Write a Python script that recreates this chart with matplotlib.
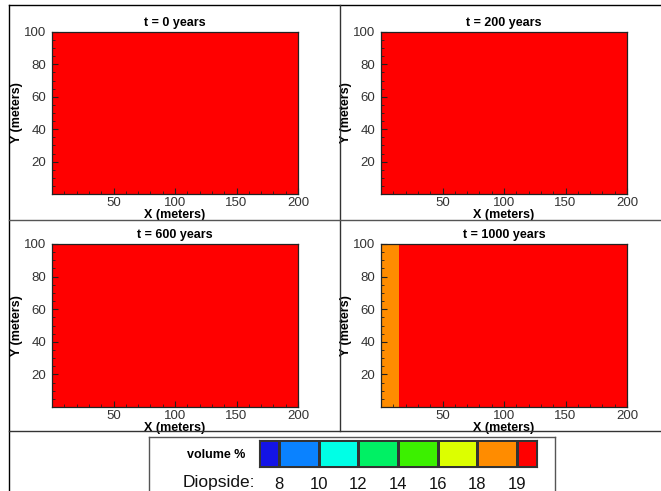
import matplotlib
matplotlib.use("Agg")
import matplotlib.pyplot as plt
import numpy as np
from matplotlib.colors import ListedColormap, BoundaryNorm
from matplotlib.lines import Line2D

plt.rcParams['font.family'] = ['Liberation Sans', 'DejaVu Sans']

# ---- data ----
titles = ["t = 0 years", "t = 200 years", "t = 600 years", "t = 1000 years"]
# column edges (m) and diopside volume % in each column, per time
x_edges = [[0, 200], [0, 200], [0, 200], [0, 15, 200]]
diopside = [[19.5], [19.5], [19.5], [18.5, 19.5]]
y_edges = [0, 100]
x_ticks = [50, 100, 150, 200]
y_ticks = [20, 40, 60, 80, 100]

level_bounds = [7, 8, 10, 12, 14, 16, 18, 19, 20]
level_labels = [8, 10, 12, 14, 16, 18, 19]
level_colors = ['#1414e6', '#0a82ff', '#00ffe6', '#00f064', '#3cf000',
                '#dcff00', '#ff8c00', '#ff0000']
legend_edges = [0, 1, 3, 5, 7, 9, 11, 13, 14]
legend_label_pos = [1, 3, 5, 7, 9, 11, 13]

cmap = ListedColormap(level_colors)
norm = BoundaryNorm(level_bounds, cmap.N)

W, H = 661, 491
fig = plt.figure(figsize=(W / 100, H / 100), dpi=100)
fig.patch.set_facecolor('white')

def fx(px):
    return px / W

def fy(py):
    return 1 - py / H

# panel rectangles in pixels: left, top, right, bottom
panels = [(52, 32, 298, 194), (381, 32, 627, 194),
          (52, 244, 298, 407), (381, 244, 627, 407)]

for i, (l, t, r, b) in enumerate(panels):
    ax = fig.add_axes([fx(l), fy(b), fx(r) - fx(l), fy(t) - fy(b)])
    vals = np.array([diopside[i]])
    ax.pcolormesh(np.array(x_edges[i]), np.array(y_edges), vals,
                  cmap=cmap, norm=norm, shading='flat')
    ax.set_xlim(0, 200)
    ax.set_ylim(0, 100)
    ax.set_xticks(x_ticks)
    ax.set_yticks(y_ticks)
    ax.set_xticks(np.arange(10, 200, 10), minor=True)
    ax.set_yticks(np.arange(5, 100, 5), minor=True)
    ax.tick_params(which='major', direction='in', length=4, width=0.8,
                   color='#222222', labelsize=9.5, labelcolor='#333333', pad=2)
    ax.tick_params(which='minor', direction='in', length=2, width=0.6,
                   color='#222222')
    ax.tick_params(axis='y', pad=4)
    for s in ax.spines.values():
        s.set_color('#222222')
        s.set_linewidth(0.9)
    ax.set_title(titles[i], fontsize=9, fontweight='bold', pad=4)
    ax.set_xlabel("X (meters)", fontsize=9, fontweight='bold', labelpad=0)
    ax.set_ylabel("Y (meters)", fontsize=9, fontweight='bold', labelpad=1)

# frame lines
lines = [((9, 9), (5, 491), 'black'),
         ((9, 661), (5, 5), 'black'),
         ((340, 340), (5, 431), '#333333'),
         ((9, 661), (220, 220), '#555555'),
         ((9, 661), (431, 431), '#333333'),
         ((149, 555), (437, 437), '#555555'),
         ((149, 149), (437, 491), '#555555'),
         ((555, 555), (437, 491), '#555555')]
for (xs, ys, c) in lines:
    fig.add_artist(Line2D([fx(xs[0]), fx(xs[1])], [fy(ys[0]), fy(ys[1])],
                          transform=fig.transFigure, color=c, lw=1))

# legend
cax = fig.add_axes([fx(259), fy(467), fx(537) - fx(259), fy(440) - fy(467)])
cax.pcolormesh(np.array(legend_edges), np.array([0, 1]),
               np.array([[(level_bounds[k] + level_bounds[k + 1]) / 2
                          for k in range(len(level_colors))]]),
               cmap=cmap, norm=norm, edgecolors='#333333', linewidth=0.8)
cax.set_xlim(legend_edges[0], legend_edges[-1])
cax.set_ylim(0, 1)
cax.set_yticks([])
cax.set_xticks(legend_label_pos)
cax.set_xticklabels([str(v) for v in level_labels])
cax.tick_params(axis='x', length=0, labelsize=12, pad=7, labelcolor='#111111')
for s in cax.spines.values():
    s.set_color('#333333')
    s.set_linewidth(0.8)

fig.text(fx(245), fy(455), "volume %", fontsize=9, fontweight='bold',
         ha='right', va='center')
fig.text(fx(255), fy(482), "Diopside:", fontsize=12.5, ha='right',
         va='center', color='#111111')

fig.savefig("out.png", dpi=100)
